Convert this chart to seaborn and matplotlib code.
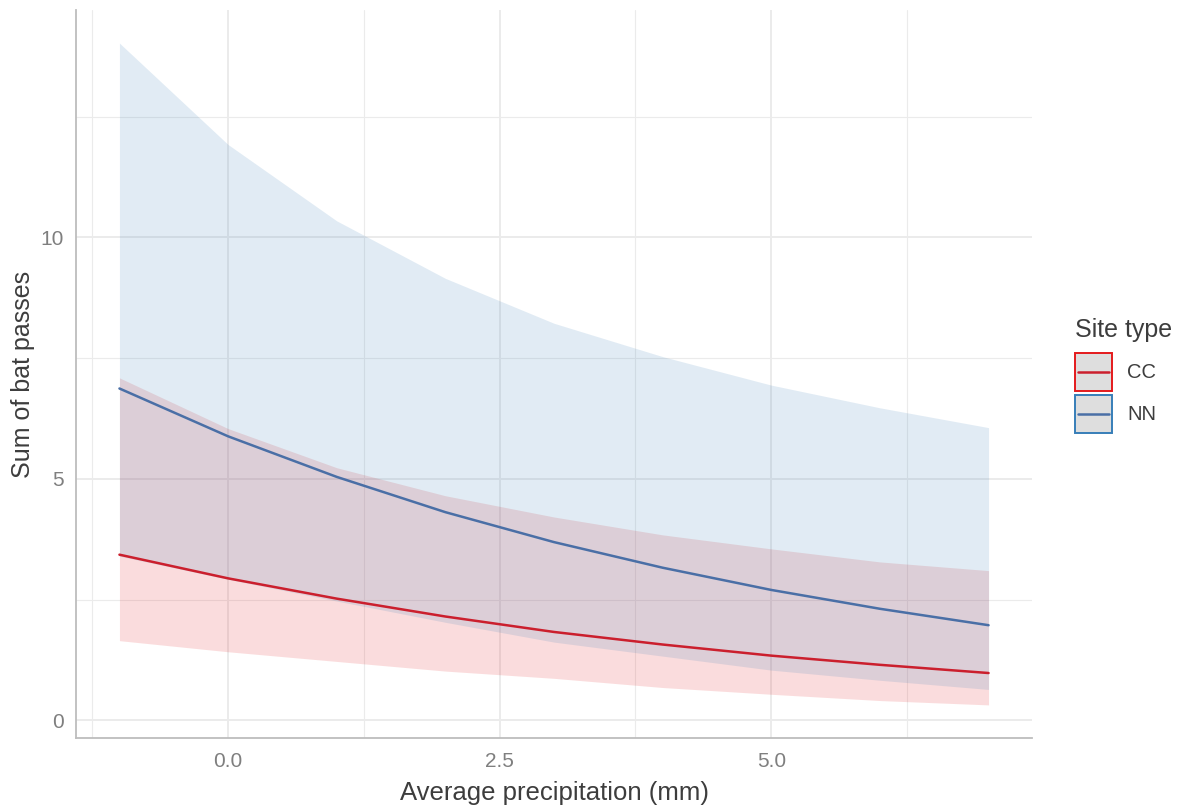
import numpy as np
import pandas as pd
import matplotlib
matplotlib.use("Agg")
import matplotlib.pyplot as plt
from matplotlib.patches import Patch, Rectangle
from matplotlib.lines import Line2D
from matplotlib.legend_handler import HandlerBase
import seaborn as sns

# Model predictions: bat passes vs. average precipitation, by site type
precip = [-1, 0, 1, 2, 3, 4, 5, 6, 7]

cc_fit = [3.43, 2.94, 2.52, 2.15, 1.83, 1.57, 1.34, 1.15, 0.98]
cc_lower = [1.65, 1.42, 1.22, 1.02, 0.87, 0.68, 0.54, 0.41, 0.32]
cc_upper = [7.09, 6.04, 5.23, 4.65, 4.21, 3.84, 3.55, 3.28, 3.10]

nn_fit = [6.87, 5.88, 5.04, 4.31, 3.69, 3.16, 2.70, 2.31, 1.97]
nn_lower = [3.40, 2.92, 2.47, 2.03, 1.62, 1.33, 1.04, 0.83, 0.64]
nn_upper = [14.02, 11.92, 10.34, 9.15, 8.22, 7.53, 6.94, 6.47, 6.06]

site_types = ["CC", "NN"]
x_ticks = [0.0, 2.5, 5.0]
x_tick_labels = ["0.0", "2.5", "5.0"]
y_ticks = [0, 5, 10]
y_tick_labels = ["0", "5", "10"]

line_colors = {"CC": "#CB1F2D", "NN": "#4A6FA6"}
band_colors = {"CC": "#E41A1C", "NN": "#377EB8"}

df = pd.concat([
    pd.DataFrame({"precip": precip, "fit": cc_fit, "lower": cc_lower,
                  "upper": cc_upper, "site": "CC"}),
    pd.DataFrame({"precip": precip, "fit": nn_fit, "lower": nn_lower,
                  "upper": nn_upper, "site": "NN"}),
], ignore_index=True)

sns.set_theme(style="white")
plt.rcParams["font.family"] = ["Liberation Sans", "DejaVu Sans"]

W, H = 1181, 807
fig = plt.figure(figsize=(W / 100, H / 100), dpi=100)
ax = fig.add_axes([76 / W, 69 / H, (1032 - 76) / W, (738 - 10) / H])

# confidence ribbons
for site in site_types:
    sub = df[df["site"] == site]
    ax.fill_between(sub["precip"], sub["lower"], sub["upper"],
                    color=band_colors[site], alpha=0.15, linewidth=0, zorder=2)

# fitted curves
sns.lineplot(data=df, x="precip", y="fit", hue="site", hue_order=site_types,
             palette=line_colors, linewidth=1.8, ax=ax, legend=False, zorder=3)

# axis ranges with 5% expansion
xmin, xmax = min(precip), max(precip)
ymin, ymax = df["lower"].min(), df["upper"].max()
xpad = 0.05 * (xmax - xmin)
ypad = 0.05 * (ymax - ymin)
ax.set_xlim(xmin - xpad, xmax + xpad)
ax.set_ylim(ymin - ypad, ymax + ypad)

ax.set_xticks(x_ticks)
ax.set_xticklabels(x_tick_labels)
ax.set_yticks(y_ticks)
ax.set_yticklabels(y_tick_labels)
ax.set_xticks([-1.25, 1.25, 3.75, 6.25], minor=True)
ax.set_yticks([2.5, 7.5, 12.5], minor=True)

ax.grid(which="major", color="#EBEBEB", linewidth=1.4, zorder=0)
ax.grid(which="minor", color="#EBEBEB", linewidth=0.8, zorder=0)
ax.set_axisbelow(True)

ax.tick_params(axis="both", which="both", length=0, labelsize=15,
               labelcolor="#7F7F7F")
ax.tick_params(axis="x", pad=10)
ax.tick_params(axis="y", pad=9)

for side in ["top", "right"]:
    ax.spines[side].set_visible(False)
for side in ["left", "bottom"]:
    ax.spines[side].set_color("#BDBDBD")
    ax.spines[side].set_linewidth(1.3)

ax.set_xlabel("Average precipitation (mm)", fontsize=18.5, color="#3D3D3D",
              labelpad=7)
ax.set_ylabel("Sum of bat passes", fontsize=18, color="#3D3D3D", labelpad=4)


class KeyHandler(HandlerBase):
    """Grey square with a coloured outline and the fitted line across it."""

    def create_artists(self, legend, orig_handle, xdescent, ydescent,
                       width, height, fontsize, trans):
        box, ln = orig_handle
        x0, y0 = -xdescent, -ydescent
        rect = Rectangle((x0, y0), width, height,
                         facecolor=box.get_facecolor(),
                         edgecolor=box.get_edgecolor(),
                         linewidth=box.get_linewidth(), transform=trans)
        yc = y0 + height / 2
        line = Line2D([x0 + 0.07 * width, x0 + 0.93 * width], [yc, yc],
                      color=ln.get_color(), linewidth=ln.get_linewidth(),
                      transform=trans)
        return [rect, line]


handles = []
for site in site_types:
    box = Patch(facecolor="#DEDEDE", edgecolor=band_colors[site], linewidth=1.4)
    ln = Line2D([], [], color=line_colors[site], linewidth=1.8)
    handles.append((box, ln))

fig.text(1075 / W, 1 - 318 / H, "Site type", fontsize=18, color="#3D3D3D",
         ha="left", va="top")

leg = fig.legend(handles, site_types,
                 handler_map={tuple: KeyHandler()},
                 loc="upper left", bbox_to_anchor=(1075 / W, 1 - 353 / H),
                 frameon=False, fontsize=14.5,
                 handlelength=1.84, handleheight=2.53, handletextpad=0.75,
                 labelspacing=0.2, borderpad=0, borderaxespad=0)
for t in leg.get_texts():
    t.set_color("#3D3D3D")

fig.savefig("out.png", dpi=100)
